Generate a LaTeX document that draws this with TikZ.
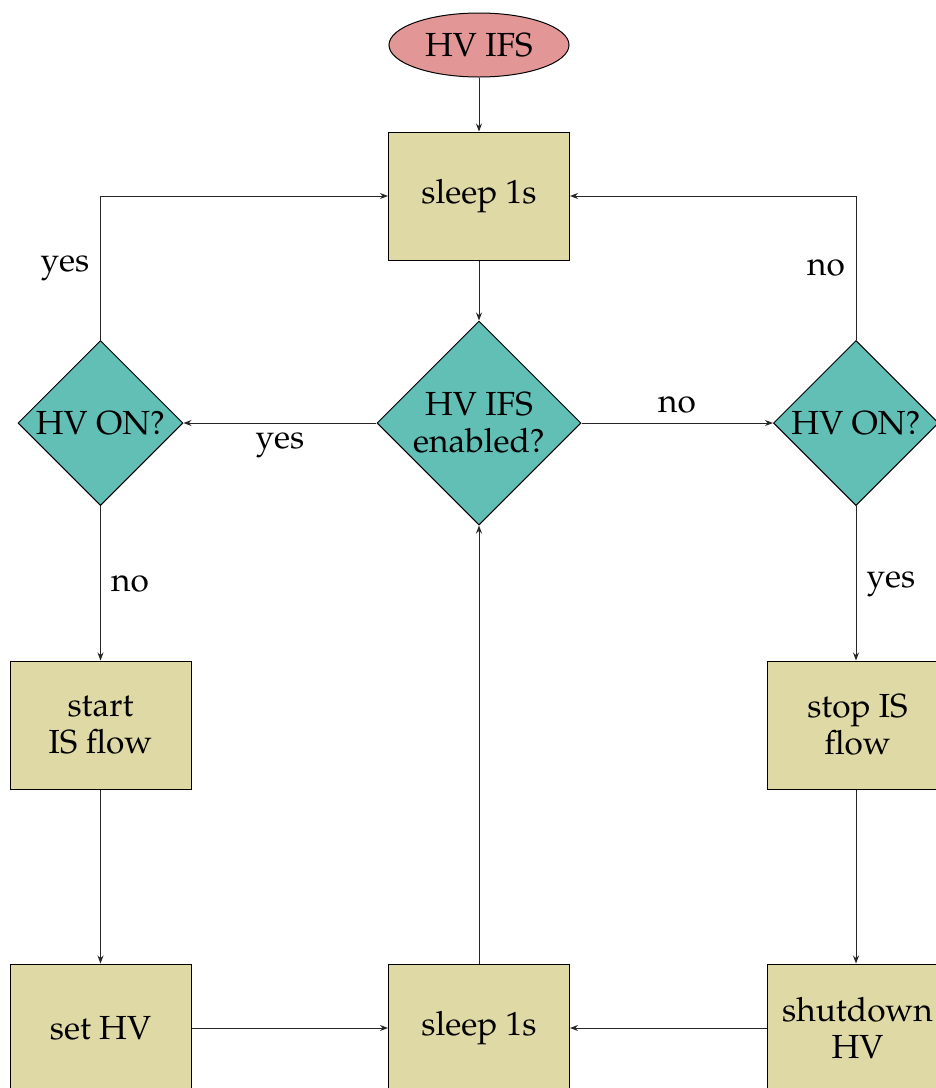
\documentclass[tikz,border=0pt]{standalone}
\usepackage[T1]{fontenc}
\usepackage{mathpazo}
\usetikzlibrary{shapes.geometric,arrows.meta}
\definecolor{boxfill}{RGB}{223,217,166}
\definecolor{decfill}{RGB}{98,191,182}
\definecolor{termfill}{RGB}{227,150,150}
\begin{document}
\begin{tikzpicture}[x=0.5pt,y=-0.5pt,
  font=\fontsize{16.7}{18.5}\selectfont,
  every node/.style={line width=0.5pt},
  stepbox/.style={draw=black, fill=boxfill, minimum width=90.5pt, minimum height=64pt,
    align=center, inner sep=0pt},
  decision/.style={draw=black, fill=decfill, shape=diamond, aspect=1, inner sep=0pt,
    align=center},
  terminal/.style={draw=black, fill=termfill, shape=ellipse, minimum width=90pt,
    minimum height=32pt, inner sep=0pt},
  conn/.style={draw=black!85, line width=0.5pt, -{Stealth[length=4pt,width=3pt]}},
  lbl/.style={inner sep=0pt}
]
\useasboundingbox (0,0) rectangle (936,1088);

% nodes
\node[terminal] (start) at (479,45) {HV IFS};
\node[stepbox] (sleepA) at (479,196) {sleep 1s};
\node[decision, minimum width=102pt, minimum height=102pt] (dec) at (479,423) {HV IFS\\enabled?};
\node[decision, minimum width=82.5pt, minimum height=82.5pt] (decL) at (100.5,423) {HV ON?};
\node[decision, minimum width=82.5pt, minimum height=82.5pt] (decR) at (856,423) {HV ON?};
\node[stepbox] (startIS) at (100.5,725) {start\\IS flow};
\node[stepbox] (stopIS) at (857.5,725) {stop IS\\flow};
\node[stepbox] (setHV) at (100.5,1028) {set HV};
\node[stepbox] (sleepB) at (479,1028) {sleep 1s};
\node[stepbox] (shutHV) at (857.5,1028) {shutdown\\HV};

% connectors
\draw[conn] (start) -- (sleepA);
\draw[conn] (sleepA) -- (dec);
\draw[conn] (dec) -- (decL);
\draw[conn] (dec) -- (decR);
\draw[conn] (decL.north) |- (sleepA.west);
\draw[conn] (decR.north) |- (sleepA.east);
\draw[conn] (decL) -- (startIS);
\draw[conn] (decR.south) -- (decR.south |- stopIS.north);
\draw[conn] (startIS) -- (setHV);
\draw[conn] (stopIS.south -| decR.south) -- (shutHV.north -| decR.south);
\draw[conn] (setHV) -- (sleepB);
\draw[conn] (shutHV) -- (sleepB);
\draw[conn] (sleepB) -- (dec);

% branch labels
\node[lbl] (yesL) at (280,445) {yes};
\node[lbl] (noR) at (677,405) {no};
\node[lbl] (yesUp) at (65,268) {yes};
\node[lbl] (noUp) at (826,268) {no};
\node[lbl] (noDown) at (130,584) {no};
\node[lbl] (yesDown) at (891,584) {yes};
\end{tikzpicture}
\end{document}
